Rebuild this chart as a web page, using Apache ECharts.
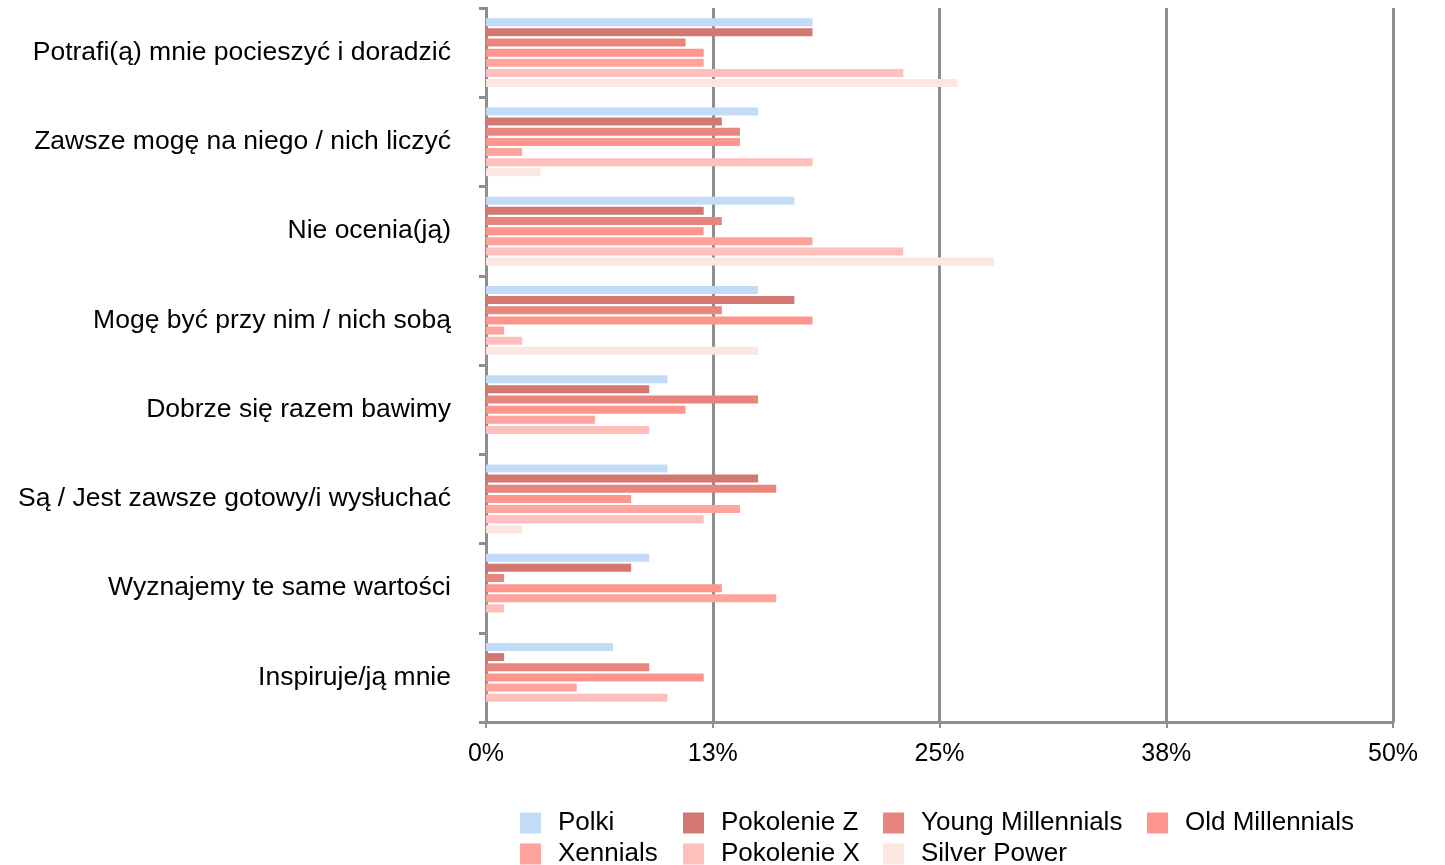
<!DOCTYPE html>
<html>
<head>
<meta charset="utf-8">
<script src="https://cdn.jsdelivr.net/npm/echarts@6/dist/echarts.min.js"></script>
<style>
  html, body { margin: 0; padding: 0; background: #fff; }
  #main { width: 1445px; height: 865px; }
</style>
</head>
<body>
<div id="main"></div>
<script>
// kategorie (od góry do dołu)
var categories = [
    'Potrafi(ą) mnie pocieszyć i doradzić',
    'Zawsze mogę na niego / nich liczyć',
    'Nie ocenia(ją)',
    'Mogę być przy nim / nich sobą',
    'Dobrze się razem bawimy',
    'Są / Jest zawsze gotowy/i wysłuchać',
    'Wyznajemy te same wartości',
    'Inspiruje/ją mnie'
];

var seriesNames = ['Polki', 'Pokolenie Z', 'Young Millennials', 'Old Millennials', 'Xennials', 'Pokolenie X', 'Silver Power'];
var colors = ['#c2dcf7', '#d27870', '#e8867e', '#fe958d', '#ffa39d', '#ffbfbd', '#fbe6e2'];

// wartości w %
var polki       = [18, 15, 17, 15, 10, 10, 9, 7];
var pokolenieZ  = [18, 13, 12, 17, 9, 15, 8, 1];
var youngMill   = [11, 14, 13, 13, 15, 16, 1, 9];
var oldMill     = [12, 14, 12, 18, 11, 8, 13, 12];
var xennials    = [12, 2, 18, 1, 6, 14, 16, 5];
var pokolenieX  = [23, 18, 23, 2, 9, 12, 1, 10];
var silverPower = [26, 3, 28, 15, 0, 2, 0, 0];

var values = [polki, pokolenieZ, youngMill, oldMill, xennials, pokolenieX, silverPower];

var font = 'Helvetica, Arial, "Liberation Sans", sans-serif';
var gray = '#8e8e8e';

var myChart = echarts.init(document.getElementById('main'));

var series = seriesNames.map(function (name, i) {
    return {
        name: name,
        type: 'bar',
        data: values[i],
        barWidth: 8,
        barGap: '27%',
        itemStyle: { color: colors[i] }
    };
});

// legenda w kolumnach
var legendCols = [
    { left: 520, data: ['Polki', 'Xennials'] },
    { left: 683, data: ['Pokolenie Z', 'Pokolenie X'] },
    { left: 883, data: ['Young Millennials', 'Silver Power'] },
    { left: 1147, data: ['Old Millennials'] }
];
var legends = legendCols.map(function (c) {
    return {
        orient: 'vertical',
        left: c.left,
        top: 810,
        height: 120,
        data: c.data,
        icon: 'rect',
        itemWidth: 21,
        itemHeight: 21,
        itemGap: 5,
        padding: 0,
        selectedMode: false,
        textStyle: {
            fontFamily: font,
            fontSize: 26,
            color: '#000',
            lineHeight: 26,
            padding: [0, 0, 0, 12]
        }
    };
});

myChart.setOption({
    animation: false,
    color: colors,
    grid: { left: 486, right: 52, top: 8, bottom: 143, containLabel: false },
    legend: legends,
    xAxis: {
        type: 'value',
        min: 0,
        max: 50,
        interval: 12.5,
        axisLine: { show: true, lineStyle: { color: gray, width: 3 } },
        axisTick: { show: true, length: 6, lineStyle: { color: gray, width: 2 } },
        splitLine: { show: true, lineStyle: { color: gray, width: 3 } },
        axisLabel: {
            margin: 20,
            fontFamily: font,
            fontSize: 25,
            color: '#000',
            formatter: function (v) { return Math.round(v) + '%'; }
        }
    },
    yAxis: {
        type: 'category',
        inverse: true,
        data: categories,
        axisLine: { show: true, lineStyle: { color: gray, width: 3 } },
        axisTick: { show: true, length: 7, lineStyle: { color: gray, width: 3 } },
        axisLabel: {
            margin: 35,
            padding: [6, 0, 0, 0],
            fontFamily: font,
            fontSize: 26.5,
            color: '#000'
        }
    },
    series: series
});
</script>
</body>
</html>
